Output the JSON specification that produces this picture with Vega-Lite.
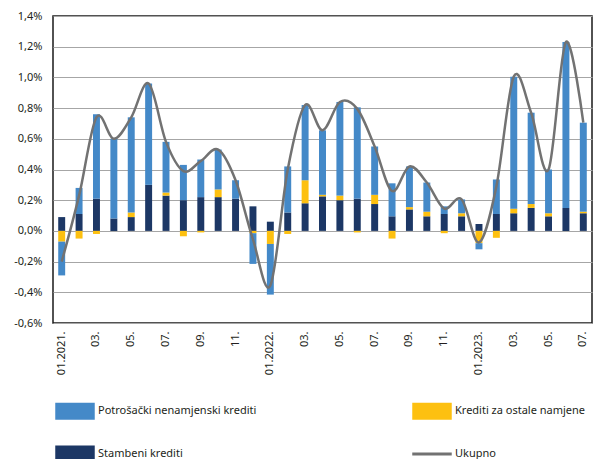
{
  "$schema": "https://vega.github.io/schema/vega-lite/v6.json",
  "width": 539,
  "height": 307,
  "autosize": {"type": "none"},
  "padding": {"left": 53, "top": 16, "right": 1, "bottom": 136},
  "background": "white",
  "config": {
    "view": {"stroke": "#1a1a1a", "strokeWidth": 1.5},
    "font": "Noto Sans",
    "axis": {"labelFont": "Noto Sans", "labelFontSize": 11, "labelColor": "#231f20"},
    "legend": {"labelFont": "Noto Sans", "labelFontSize": 11, "labelColor": "#231f20"}
  },
  "data": {
    "values": [
      {"d": "01.2021.", "s": 0.09, "o": -0.07, "p": -0.22, "u": -0.20},
      {"d": "02.2021.", "s": 0.11, "o": -0.05, "p": 0.17, "u": 0.23},
      {"d": "03.2021.", "s": 0.21, "o": -0.02, "p": 0.55, "u": 0.74},
      {"d": "04.2021.", "s": 0.08, "o": 0.0, "p": 0.52, "u": 0.60},
      {"d": "05.2021.", "s": 0.09, "o": 0.03, "p": 0.62, "u": 0.74},
      {"d": "06.2021.", "s": 0.30, "o": 0.0, "p": 0.66, "u": 0.96},
      {"d": "07.2021.", "s": 0.23, "o": 0.02, "p": 0.33, "u": 0.58},
      {"d": "08.2021.", "s": 0.20, "o": -0.035, "p": 0.23, "u": 0.39},
      {"d": "09.2021.", "s": 0.22, "o": -0.01, "p": 0.245, "u": 0.455},
      {"d": "10.2021.", "s": 0.22, "o": 0.05, "p": 0.26, "u": 0.53},
      {"d": "11.2021.", "s": 0.21, "o": 0.0, "p": 0.12, "u": 0.33},
      {"d": "12.2021.", "s": 0.16, "o": -0.015, "p": -0.20, "u": -0.055},
      {"d": "01.2022.", "s": 0.06, "o": -0.085, "p": -0.33, "u": -0.355},
      {"d": "02.2022.", "s": 0.12, "o": -0.02, "p": 0.30, "u": 0.40},
      {"d": "03.2022.", "s": 0.18, "o": 0.15, "p": 0.49, "u": 0.82},
      {"d": "04.2022.", "s": 0.225, "o": 0.01, "p": 0.42, "u": 0.655},
      {"d": "05.2022.", "s": 0.20, "o": 0.03, "p": 0.61, "u": 0.84},
      {"d": "06.2022.", "s": 0.21, "o": -0.01, "p": 0.595, "u": 0.795},
      {"d": "07.2022.", "s": 0.175, "o": 0.06, "p": 0.315, "u": 0.55},
      {"d": "08.2022.", "s": 0.095, "o": -0.05, "p": 0.215, "u": 0.26},
      {"d": "09.2022.", "s": 0.14, "o": 0.015, "p": 0.265, "u": 0.42},
      {"d": "10.2022.", "s": 0.095, "o": 0.03, "p": 0.19, "u": 0.315},
      {"d": "11.2022.", "s": 0.11, "o": -0.015, "p": 0.05, "u": 0.145},
      {"d": "12.2022.", "s": 0.095, "o": 0.02, "p": 0.09, "u": 0.205},
      {"d": "01.2023.", "s": 0.045, "o": -0.08, "p": -0.04, "u": -0.075},
      {"d": "02.2023.", "s": 0.11, "o": -0.045, "p": 0.225, "u": 0.29},
      {"d": "03.2023.", "s": 0.115, "o": 0.03, "p": 0.86, "u": 1.005},
      {"d": "04.2023.", "s": 0.15, "o": 0.025, "p": 0.595, "u": 0.77},
      {"d": "05.2023.", "s": 0.095, "o": 0.02, "p": 0.285, "u": 0.40},
      {"d": "06.2023.", "s": 0.15, "o": 0.0, "p": 1.08, "u": 1.23},
      {"d": "07.2023.", "s": 0.115, "o": 0.01, "p": 0.58, "u": 0.705}
    ]
  },
  "encoding": {
    "x": {
      "field": "d",
      "type": "nominal",
      "sort": null,
      "title": null,
      "scale": {"paddingInner": 0.6, "paddingOuter": 0.3},
      "axis": {
        "labelAngle": -90,
        "ticks": false,
        "domain": false,
        "labelPadding": 8,
        "labelExpr": "slice(datum.value,0,2) == '01' ? datum.value : (toNumber(slice(datum.value,0,2)) % 2 == 1 ? slice(datum.value,0,3) : '')"
      }
    }
  },
  "layer": [
    {
      "transform": [
        {"fold": ["s", "o", "p"], "as": ["k", "v"]},
        {"calculate": "datum.k == 's' ? 'Stambeni krediti' : datum.k == 'o' ? 'Krediti za ostale namjene' : 'Potrošački nenamjenski krediti'", "as": "series"},
        {"calculate": "datum.k == 's' ? 0 : datum.k == 'o' ? 1 : 2", "as": "ord"}
      ],
      "mark": {"type": "bar"},
      "encoding": {
        "y": {
          "field": "v",
          "type": "quantitative",
          "stack": "zero",
          "title": null,
          "scale": {"domain": [-0.6, 1.4], "nice": false, "zero": false},
          "axis": {
            "values": [-0.6, -0.4, -0.2, 0, 0.2, 0.4, 0.6, 0.8, 1.0, 1.2, 1.4],
            "tickCount": 30,
            "labelOverlap": false,
            "grid": true,
            "gridColor": "#a6a6a6",
            "gridWidth": 1,
            "domain": false,
            "ticks": false,
            "labelPadding": 11,
            "labelExpr": "(datum.value < -0.001 ? '-' : '') + replace(format(abs(datum.value), '.1f'), '.', ',') + '%'"
          }
        },
        "order": {"field": "ord", "type": "quantitative"},
        "color": {
          "field": "series",
          "type": "nominal",
          "scale": {
            "domain": ["Potrošački nenamjenski krediti", "Krediti za ostale namjene", "Stambeni krediti", "Ukupno"],
            "range": ["#4489c8", "#fdc010", "#1c3765", "#727272"]
          },
          "legend": {
            "title": null,
            "orient": "none",
            "legendX": 2,
            "legendY": 375,
            "columns": 2,
            "direction": "horizontal",
            "columnPadding": 155,
            "rowPadding": 14,
            "symbolSize": 1560,
            "labelOffset": 3,
            "labelLimit": 300,
            "symbolStrokeWidth": 0,
            "encode": {
              "symbols": {
                "update": {
                  "shape": {"signal": "datum.value == 'Ukupno' ? 'M-1,-0.07H1V0.07H-1Z' : 'M-1,-0.43H1V0.43H-1Z'"},
                  "strokeWidth": {"value": 0}
                }
              }
            }
          }
        }
      }
    },
    {
      "mark": {"type": "line", "interpolate": "cardinal", "tension": 0, "strokeWidth": 2.5, "color": "#727272"},
      "encoding": {
        "y": {"field": "u", "type": "quantitative"}
      }
    }
  ]
}
